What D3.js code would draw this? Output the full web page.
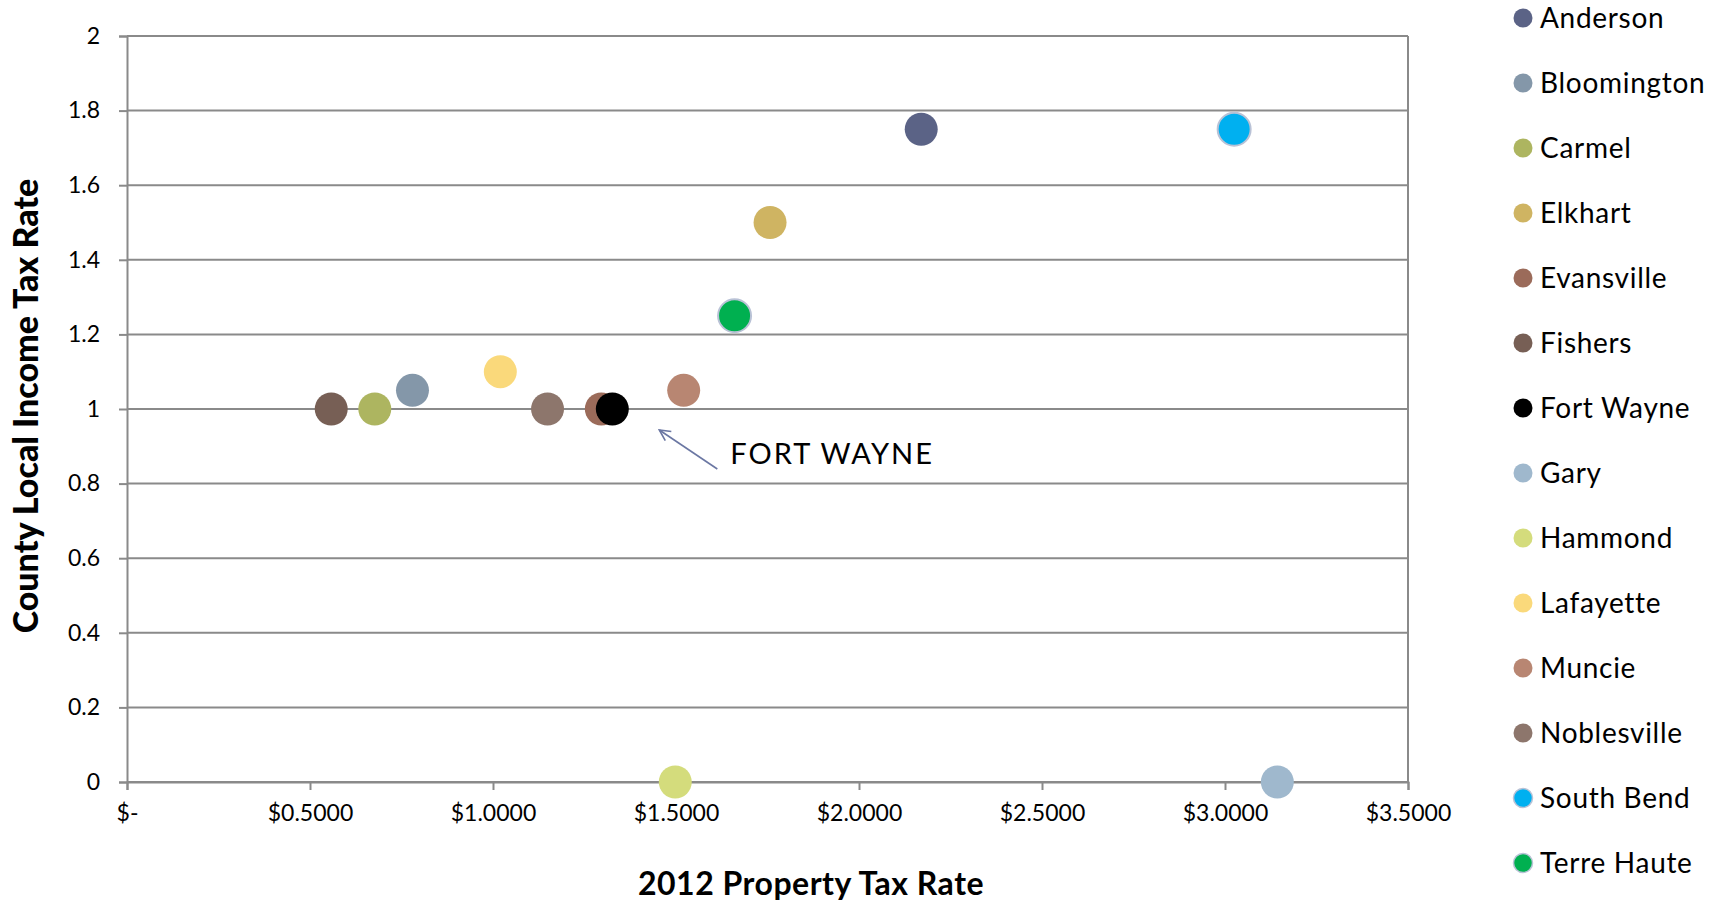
<!DOCTYPE html>
<html>
<head>
<meta charset="utf-8">
<script src="https://cdn.jsdelivr.net/npm/d3@7"></script>
<style>
  body { margin: 0; background: #fff; }
  text { font-family: Lato, "Open Sans", sans-serif; }
</style>
</head>
<body>
<div id="chart"></div>
<script>
const cities = ["Anderson", "Bloomington", "Carmel", "Elkhart", "Evansville", "Fishers", "Fort Wayne",
  "Gary", "Hammond", "Lafayette", "Muncie", "Noblesville", "South Bend", "Terre Haute"];
const propertyTax = [2.17, 0.78, 0.677, 1.757, 1.296, 0.558, 1.326, 3.143, 1.498, 1.02, 1.521, 1.149, 3.025, 1.66];
const incomeTax = [1.75, 1.05, 1.0, 1.5, 1.0, 1.0, 1.0, 0, 0, 1.1, 1.05, 1.0, 1.75, 1.25];
const colors = ["#5b6386", "#8497a9", "#adb560", "#cfb462", "#9b6b5a", "#775f55", "#000000",
  "#9fb8cd", "#d4dc7c", "#fad97b", "#b88672", "#8d766c", "#00b0f0", "#00b050"];
const outlined = ["South Bend", "Terre Haute"];
const xTicks = [0, 0.5, 1, 1.5, 2, 2.5, 3, 3.5];
const yTicks = [0, 0.2, 0.4, 0.6, 0.8, 1, 1.2, 1.4, 1.6, 1.8, 2];

const W = 1722, H = 905;
const margin = {top: 36, right: 314, bottom: 123, left: 127},
      width = W - margin.left - margin.right,
      height = H - margin.top - margin.bottom;

const root = d3.select("#chart")
  .append("svg")
  .attr("width", W)
  .attr("height", H);

const svg = root.append("g")
  .attr("transform", `translate(${margin.left},${margin.top})`);

const x = d3.scaleLinear().domain([0, 3.5]).range([0, width]);
const y = d3.scaleLinear().domain([0, 2]).range([height, 0]);

const gridColor = "#8a8a8a";

// horizontal gridlines
svg.selectAll(".grid")
  .data(yTicks)
  .enter()
  .append("line")
  .attr("class", "grid")
  .attr("x1", 0)
  .attr("x2", width)
  .attr("y1", d => y(d))
  .attr("y2", d => y(d))
  .attr("stroke", gridColor)
  .attr("stroke-width", 2);

// right border
svg.append("line")
  .attr("x1", width).attr("x2", width)
  .attr("y1", 0).attr("y2", height)
  .attr("stroke", gridColor)
  .attr("stroke-width", 2);

const xAxis = svg.append("g")
  .attr("transform", `translate(0,${height})`)
  .call(d3.axisBottom(x)
    .tickValues(xTicks)
    .tickSize(8)
    .tickPadding(15)
    .tickFormat(d => d === 0 ? "$-" : "$" + d.toFixed(4)));

const yAxis = svg.append("g")
  .call(d3.axisLeft(y)
    .tickValues(yTicks)
    .tickSize(8)
    .tickPadding(19)
    .tickFormat(d => String(+d.toFixed(1))));

[xAxis, yAxis].forEach(g => {
  g.select(".domain").attr("stroke", gridColor).attr("stroke-width", 2);
  g.selectAll(".tick line").attr("stroke", gridColor).attr("stroke-width", 2);
  g.selectAll(".tick text")
    .attr("fill", "#000")
    .style("font-size", "23px")
    .style("font-family", "Lato, sans-serif");
});

const points = cities.map((c, i) => ({
  city: c,
  px: propertyTax[i],
  py: incomeTax[i],
  color: colors[i]
}));

svg.selectAll(".dot")
  .data(points)
  .enter()
  .append("circle")
  .attr("class", "dot")
  .attr("cx", d => x(d.px))
  .attr("cy", d => y(d.py))
  .attr("r", 16.5)
  .attr("fill", d => d.color)
  .attr("stroke", d => outlined.includes(d.city) ? "#b9c2d6" : "none")
  .attr("stroke-width", 2);

// Fort Wayne annotation
const fw = points.find(d => d.city === "Fort Wayne");
const fx = x(fw.px), fy = y(fw.py);
const arrowColor = "#6b77a3";

root.append("defs").append("marker")
  .attr("id", "arrowhead")
  .attr("viewBox", "0 0 12 12")
  .attr("refX", 11)
  .attr("refY", 6)
  .attr("markerWidth", 13)
  .attr("markerHeight", 13)
  .attr("markerUnits", "userSpaceOnUse")
  .attr("orient", "auto")
  .append("path")
  .attr("d", "M1,1 L11,6 L1,11")
  .attr("fill", "none")
  .attr("stroke", arrowColor)
  .attr("stroke-width", 1.5);

svg.append("line")
  .attr("x1", fx + 105)
  .attr("y1", fy + 60)
  .attr("x2", fx + 47)
  .attr("y2", fy + 21)
  .attr("stroke", arrowColor)
  .attr("stroke-width", 1.6)
  .attr("marker-end", "url(#arrowhead)");

svg.append("text")
  .attr("x", fx + 118)
  .attr("y", fy + 55)
  .style("font-size", "29px")
  .style("letter-spacing", "2px")
  .attr("fill", "#000")
  .text("FORT WAYNE");

// axis titles
root.append("text")
  .attr("x", 811)
  .attr("y", 895)
  .attr("text-anchor", "middle")
  .style("font-size", "32px")
  .style("font-weight", "bold")
  .style("letter-spacing", "0.5px")
  .text("2012 Property Tax Rate");

root.append("text")
  .attr("transform", "translate(24,406) rotate(-90)")
  .attr("text-anchor", "middle")
  .attr("dominant-baseline", "central")
  .style("font-size", "34px")
  .style("font-weight", "900")
  .text("County Local Income Tax Rate");

// legend
const legend = root.append("g")
  .attr("transform", "translate(1523,18)");

const rows = legend.selectAll(".legend-row")
  .data(points)
  .enter()
  .append("g")
  .attr("class", "legend-row")
  .attr("transform", (d, i) => `translate(0,${i * 65})`);

rows.append("circle")
  .attr("r", 9.5)
  .attr("fill", d => d.color)
  .attr("stroke", d => outlined.includes(d.city) ? "#b9c2d6" : "none")
  .attr("stroke-width", 1.5);

rows.append("text")
  .attr("x", 17)
  .attr("dy", "0.35em")
  .style("font-size", "28px")
  .style("letter-spacing", "0.7px")
  .attr("fill", "#000")
  .text(d => d.city);
</script>
</body>
</html>
